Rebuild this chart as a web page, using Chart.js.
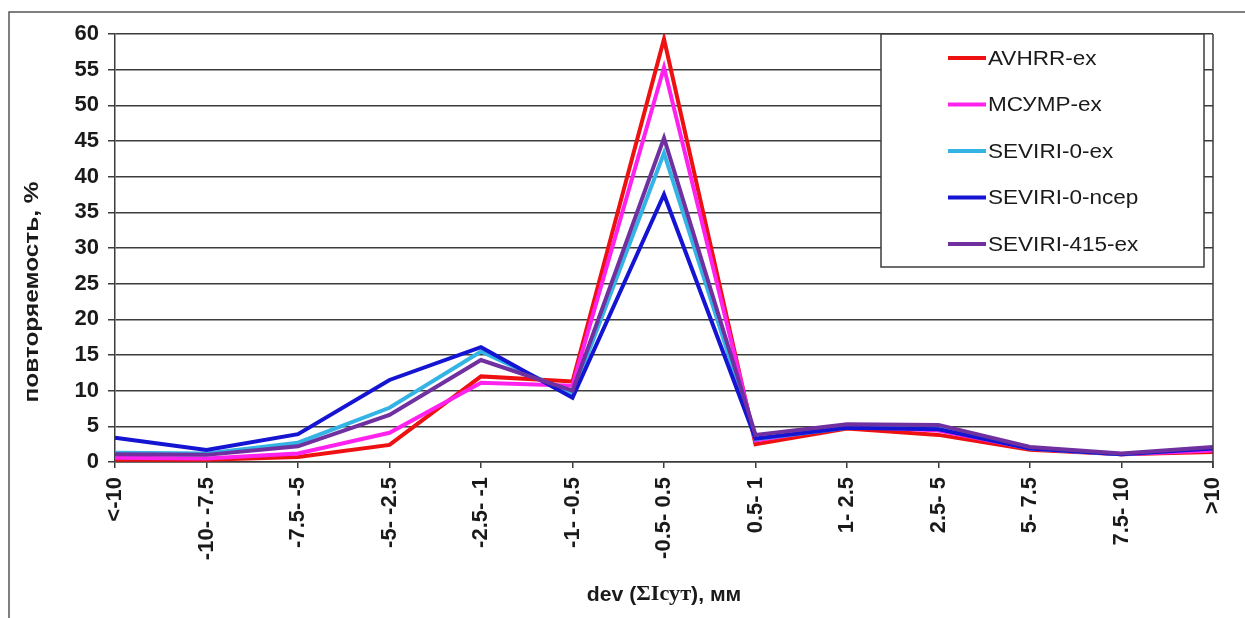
<!DOCTYPE html>
<html>
<head>
<meta charset="utf-8">
<script src="https://cdn.jsdelivr.net/npm/chart.js@4"></script>
<style>
  html, body { margin: 0; padding: 0; background: #fff; }
  #wrap { width: 1245px; height: 618px; position: relative; }
</style>
</head>
<body>
<div id="wrap"><canvas id="c" width="1245" height="618"></canvas></div>
<script>
// Deviation classes (x axis)
const categories = ['<-10', '-10- -7.5', '-7.5- -5', '-5- -2.5', '-2.5- -1', '-1- -0.5',
  '-0.5- 0.5', '0.5- 1', '1- 2.5', '2.5- 5', '5- 7.5', '7.5- 10', '>10'];

// Frequency of each deviation class, %
const avhrrEx     = [0.3, 0.3, 0.7, 2.4, 12.0, 11.3, 59.3, 2.5, 4.7, 3.8, 1.7, 1.1, 1.4];
const msumrEx     = [0.6, 0.5, 1.2, 4.1, 11.1, 10.7, 55.3, 3.0, 5.0, 4.4, 1.9, 1.1, 1.6];
const seviri0Ex   = [1.3, 1.2, 2.7, 7.6, 15.5, 9.5, 43.3, 3.2, 4.8, 4.7, 1.9, 1.1, 2.0];
const seviri0Ncep = [3.4, 1.7, 3.9, 11.5, 16.1, 9.0, 37.5, 3.3, 4.8, 4.6, 1.9, 1.1, 1.9];
const seviri415Ex = [1.1, 1.0, 2.2, 6.6, 14.3, 10.0, 45.4, 3.8, 5.3, 5.2, 2.1, 1.2, 2.1];

const seriesNames = ['AVHRR-ex', 'МСУМР-ex', 'SEVIRI-0-ex', 'SEVIRI-0-ncep', 'SEVIRI-415-ex'];
const seriesData = [avhrrEx, msumrEx, seviri0Ex, seviri0Ncep, seviri415Ex];
const seriesColors = ['#ee1111', '#ff22ee', '#33b4e4', '#1414d2', '#7030a0'];

const yTicks = [0, 5, 10, 15, 20, 25, 30, 35, 40, 45, 50, 55, 60];

const SANS = '"Liberation Sans", Arial, sans-serif';
const SERIF = '"Liberation Serif", "Times New Roman", serif';
const GRID = '#3c3c3c';
const INK = '#1a1a1a';

const datasets = seriesData.map((d, i) => ({
  label: seriesNames[i],
  data: d,
  borderColor: seriesColors[i],
  backgroundColor: seriesColors[i],
  borderWidth: 4,
  pointRadius: 0,
  tension: 0,
  fill: false,
  order: seriesData.length - i   // later series painted on top
}));

// draws text stretched along its own direction by factor sx
function wideText(ctx, text, x, y, sx, align) {
  const w = ctx.measureText(text).width * sx;
  let x0 = x;
  if (align === 'center') x0 = x - w / 2;
  else if (align === 'right') x0 = x - w;
  ctx.save();
  ctx.translate(x0, y);
  ctx.scale(sx, 1);
  ctx.textAlign = 'left';
  ctx.fillText(text, 0, 0);
  ctx.restore();
  return w;
}

const decorations = {
  id: 'decorations',
  beforeDraw(chart) {
    const ctx = chart.ctx;
    ctx.save();
    ctx.fillStyle = '#fff';
    ctx.fillRect(0, 0, chart.width, chart.height);
    // outer frame (top and left edges)
    ctx.strokeStyle = '#555';
    ctx.lineWidth = 1.5;
    ctx.beginPath();
    ctx.moveTo(9, chart.height);
    ctx.lineTo(9, 12);
    ctx.lineTo(chart.width, 12);
    ctx.stroke();
    ctx.restore();
  },
  afterDraw(chart) {
    const ctx = chart.ctx;
    const area = chart.chartArea;
    ctx.save();
    // right edge of plot area
    ctx.strokeStyle = GRID;
    ctx.lineWidth = 1.5;
    ctx.beginPath();
    ctx.moveTo(area.right, area.top);
    ctx.lineTo(area.right, area.bottom + 6);
    ctx.stroke();

    // legend box
    const lx = 881, ly = 34, lw = 323, lh = 233;
    ctx.fillStyle = '#fff';
    ctx.fillRect(lx, ly, lw, lh);
    ctx.strokeStyle = GRID;
    ctx.lineWidth = 1.5;
    ctx.strokeRect(lx, ly, lw, lh);
    ctx.font = '20.5px ' + SANS;
    ctx.textBaseline = 'middle';
    chart.data.datasets.forEach((ds, i) => {
      const y = 58 + i * 46.5;
      ctx.strokeStyle = ds.borderColor;
      ctx.lineWidth = 4;
      ctx.beginPath();
      ctx.moveTo(948, y);
      ctx.lineTo(986, y);
      ctx.stroke();
      ctx.fillStyle = INK;
      wideText(ctx, ds.label, 988, y + 1, 1.1, 'left');
    });

    // y axis title
    ctx.fillStyle = INK;
    ctx.save();
    ctx.translate(32, 292);
    ctx.rotate(-Math.PI / 2);
    ctx.textBaseline = 'middle';
    ctx.font = 'bold 20px ' + SANS;
    wideText(ctx, 'повторяемость, %', 0, 0, 1.22, 'center');
    ctx.restore();

    // x axis title with serif symbol part
    const sx = 1.06;
    const parts = [
      { t: 'dev (', f: 'bold 20px ' + SANS },
      { t: 'ΣIсут', f: 'bold 21px ' + SERIF },
      { t: '), мм', f: 'bold 20px ' + SANS }
    ];
    let total = 0;
    parts.forEach(p => { ctx.font = p.f; p.w = ctx.measureText(p.t).width * sx; total += p.w; });
    let x = (area.left + area.right) / 2 - total / 2;
    ctx.textBaseline = 'middle';
    parts.forEach(p => { ctx.font = p.f; wideText(ctx, p.t, x, 595, sx, 'left'); x += p.w; });
    ctx.restore();
  }
};

new Chart(document.getElementById('c'), {
  type: 'line',
  data: { labels: categories, datasets },
  options: {
    responsive: false,
    animation: false,
    devicePixelRatio: 1,
    layout: { padding: { top: 34, right: 32, left: 0, bottom: 0 } },
    plugins: { legend: { display: false }, tooltip: { enabled: false } },
    scales: {
      x: {
        offset: false,
        grid: { drawOnChartArea: false, drawTicks: true, tickLength: 6, color: GRID, lineWidth: 1.5 },
        border: { display: true, color: GRID, width: 1.5 },
        ticks: {
          minRotation: 90, maxRotation: 90, autoSkip: false, padding: 9,
          color: INK, font: { family: SANS, size: 22, weight: 'bold' }
        },
        afterFit(s) { s.height = 156; s.paddingLeft = 0; s.paddingRight = 0; }
      },
      y: {
        min: yTicks[0], max: yTicks[yTicks.length - 1],
        afterBuildTicks(s) { s.ticks = yTicks.map(v => ({ value: v })); },
        grid: { color: GRID, lineWidth: 1.5, tickLength: 7 },
        border: { display: true, color: GRID, width: 1.5 },
        ticks: { padding: 9, color: INK, font: { family: SANS, size: 22, weight: 'bold' } },
        afterFit(s) { s.width = 115; s.paddingTop = 0; s.paddingBottom = 0; }
      }
    }
  },
  plugins: [decorations]
});
</script>
</body>
</html>
